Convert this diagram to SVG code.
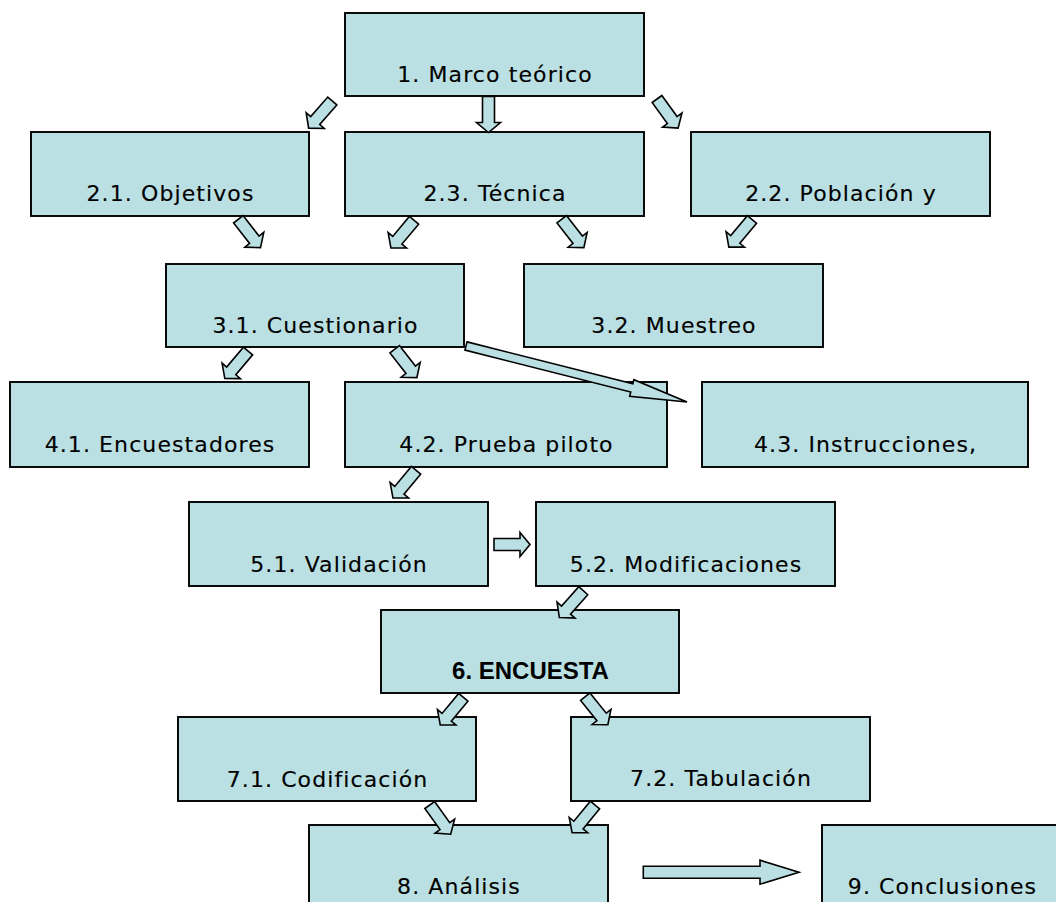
<svg xmlns="http://www.w3.org/2000/svg" xmlns:xlink="http://www.w3.org/1999/xlink" width="1056" height="902" viewBox="0 0 1056 902">
<style>
.box{fill:#BBE0E3;stroke:#000;stroke-width:1.9}
.arr{fill:#BBE0E3;stroke:#000;stroke-width:1.6;stroke-linejoin:miter}
.t{font-family:"DejaVu Sans","Verdana",sans-serif;font-size:22px;letter-spacing:1.1px;text-anchor:middle;fill:#000;stroke:#000;stroke-width:0.15}
.tb{font-family:"Liberation Sans","Arial",sans-serif;font-size:24px;font-weight:bold;text-anchor:middle;fill:#000}
</style>
<defs>
<path id="ba" d="M0,-6 H26 V-12 L36,0 L26,12 V6 H0 Z"/>
</defs>
<rect width="1056" height="902" fill="#fff"/>
<g id="n1"><rect class="box" x="345" y="13" width="299" height="83"/><text class="t" x="495" y="82">1. Marco teórico</text></g>
<g id="n21"><rect class="box" x="31" y="132" width="278" height="84"/><text class="t" x="170.5" y="201">2.1. Objetivos</text></g>
<g id="n23"><rect class="box" x="345" y="132" width="299" height="84"/><text class="t" x="495" y="201">2.3. Técnica</text></g>
<g id="n22"><rect class="box" x="691" y="132" width="299" height="84"/><text class="t" x="841" y="201">2.2. Población y</text></g>
<g id="n31"><rect class="box" x="166" y="264" width="298" height="83"/><text class="t" x="315.5" y="332.5">3.1. Cuestionario</text></g>
<g id="n32"><rect class="box" x="524" y="264" width="299" height="83"/><text class="t" x="674" y="332.5">3.2. Muestreo</text></g>
<g id="n41"><rect class="box" x="10" y="382" width="299" height="85"/><text class="t" x="160" y="452">4.1. Encuestadores</text></g>
<g id="n42"><rect class="box" x="345" y="382" width="322" height="85"/><text class="t" x="506.5" y="452">4.2. Prueba piloto</text></g>
<g id="n43"><rect class="box" x="702" y="382" width="326" height="85"/><text class="t" x="865.5" y="452">4.3. Instrucciones,</text></g>
<g id="n51"><rect class="box" x="189" y="502" width="299" height="84"/><text class="t" x="339" y="572">5.1. Validación</text></g>
<g id="n52"><rect class="box" x="536" y="502" width="299" height="84"/><text class="t" x="686" y="572">5.2. Modificaciones</text></g>
<g id="n6"><rect class="box" x="381" y="610" width="298" height="83"/><text class="tb" x="530.5" y="678.5">6. ENCUESTA</text></g>
<g id="n71"><rect class="box" x="178" y="717" width="298" height="84"/><text class="t" x="327.5" y="786.5">7.1. Codificación</text></g>
<g id="n72"><rect class="box" x="571" y="717" width="299" height="84"/><text class="t" x="721" y="786">7.2. Tabulación</text></g>
<g id="n8"><rect class="box" x="309" y="825" width="299" height="90"/><text class="t" x="459" y="893.5">8. Análisis</text></g>
<g id="n9"><rect class="box" x="822" y="825" width="299" height="90"/><text class="t" x="942.5" y="893.5">9. Conclusiones</text></g>
<g id="connectors">
<use xlink:href="#ba" href="#ba" class="arr" transform="translate(332.3,101) rotate(131.1)"/>
<use xlink:href="#ba" href="#ba" class="arr" transform="translate(488.5,96.5) rotate(90)"/>
<use xlink:href="#ba" href="#ba" class="arr" transform="translate(657,99) rotate(54.1)"/>
<use xlink:href="#ba" href="#ba" class="arr" transform="translate(238.3,219.3) rotate(51.9)"/>
<use xlink:href="#ba" href="#ba" class="arr" transform="translate(414,220.3) rotate(129.9)"/>
<use xlink:href="#ba" href="#ba" class="arr" transform="translate(561.7,219.3) rotate(52)"/>
<use xlink:href="#ba" href="#ba" class="arr" transform="translate(752,219.5) rotate(130)"/>
<use xlink:href="#ba" href="#ba" class="arr" transform="translate(248,351) rotate(130.1)"/>
<use xlink:href="#ba" href="#ba" class="arr" transform="translate(394.7,349.3) rotate(52)"/>
<path class="arr" d="M0,-4.25 H171 V-8.5 L228,0 L171,8.5 V4.25 H0 Z" transform="translate(466,346) rotate(14.2)"/>
<use xlink:href="#ba" href="#ba" class="arr" transform="translate(416,470.3) rotate(129.8)"/>
<use xlink:href="#ba" href="#ba" class="arr" transform="translate(494,544.5) rotate(0)"/>
<use xlink:href="#ba" href="#ba" class="arr" transform="translate(583.3,590.7) rotate(131.7)"/>
<use xlink:href="#ba" href="#ba" class="arr" transform="translate(463.3,697.3) rotate(129.8)"/>
<use xlink:href="#ba" href="#ba" class="arr" transform="translate(585.3,696.7) rotate(51.2)"/>
<use xlink:href="#ba" href="#ba" class="arr" transform="translate(429.7,805) rotate(54.3)"/>
<use xlink:href="#ba" href="#ba" class="arr" transform="translate(595,805) rotate(129.5)"/>
<path class="arr" d="M0,-6 H116.7 V-12 L155.7,0 L116.7,12 V6 H0 Z" transform="translate(643.3,872.2)"/>
</g>
</svg>
